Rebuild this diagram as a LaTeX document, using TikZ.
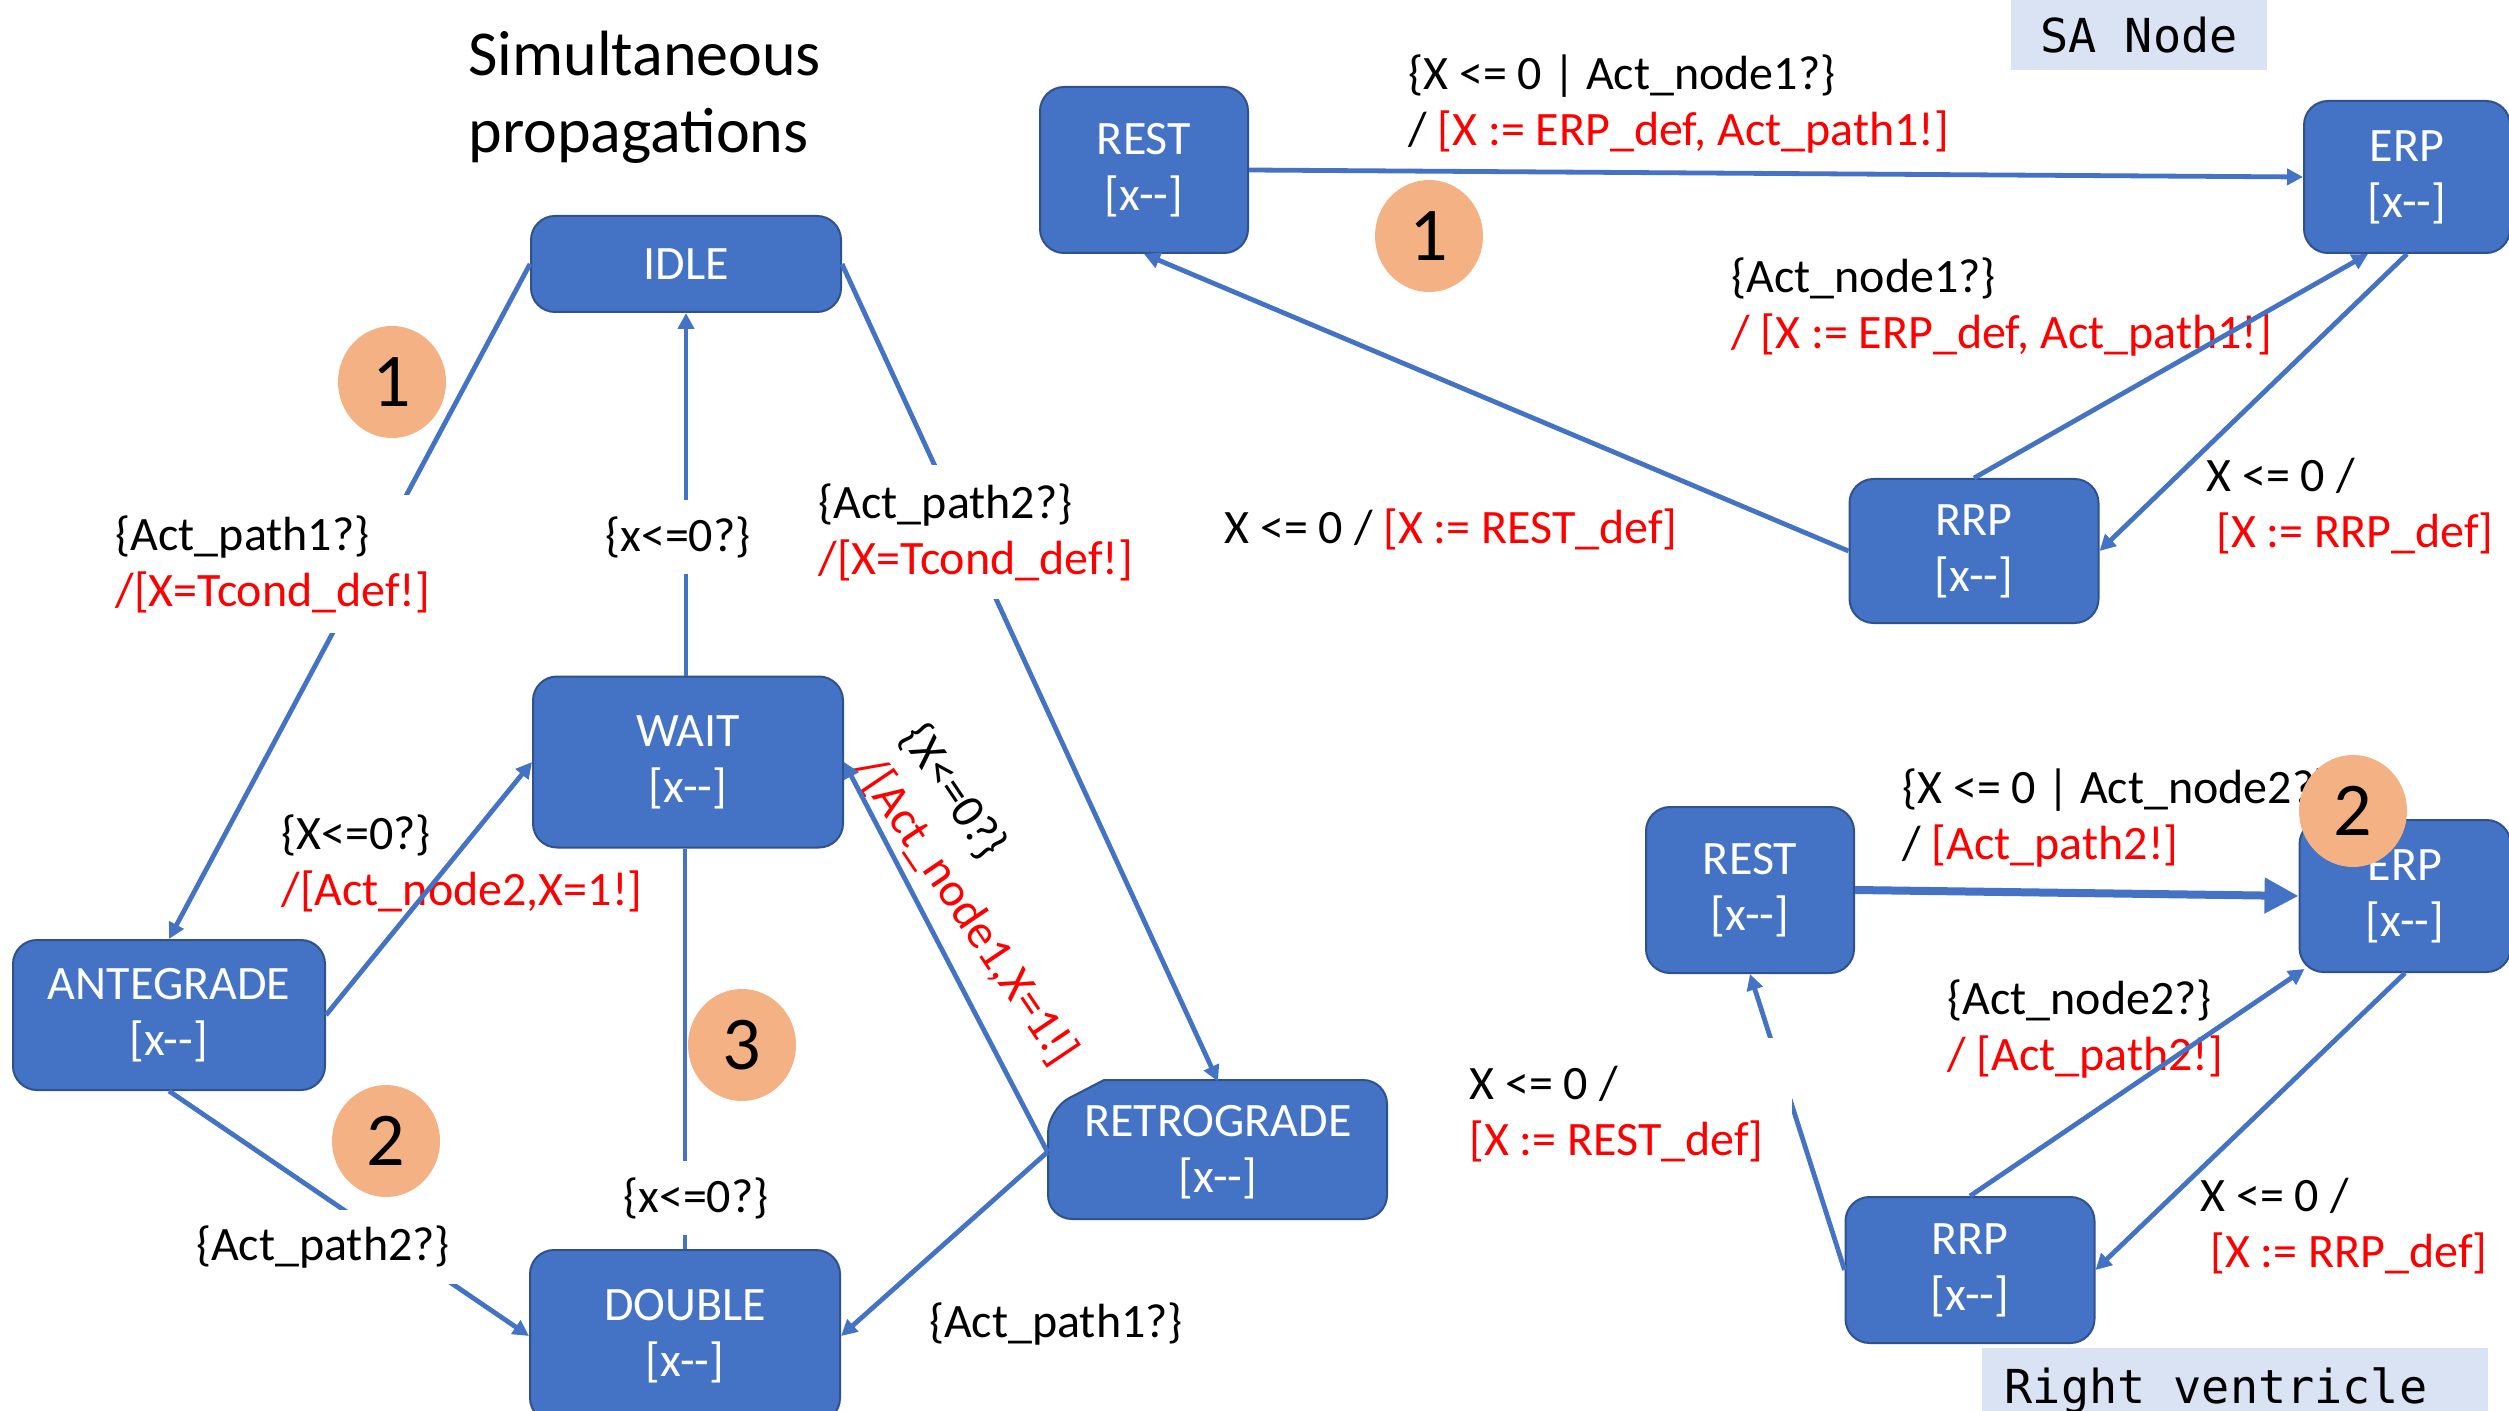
\documentclass[tikz,border=0pt]{standalone}
\usepackage{fontspec}
\setmainfont{Carlito}
\newfontfamily\tagfont{DejaVu Sans Mono}
\usetikzlibrary{arrows.meta,calc,shapes.geometric}
\definecolor{stateblue}{HTML}{4472C4}
\definecolor{stateedge}{HTML}{2F528F}
\definecolor{actred}{HTML}{FF0000}
\definecolor{stepfill}{HTML}{F4B183}
\definecolor{tagbg}{HTML}{DAE3F3}
% counter line shown inside every state box
\newcommand{\xdecr}{{[}x-{}-{]}}
\newcommand{\act}[1]{\textcolor{actred}{#1}}

\begin{document}
\begin{tikzpicture}[x=0.5pt,y=-0.5pt,
  every node/.style={font=\fontsize{24}{28}\selectfont},
  state/.style={draw=stateedge, line width=1pt, fill=stateblue, text=white,
                rounded corners=12pt, align=center, inner sep=0pt},
  trans/.style={draw=stateblue, line width=2.4pt, -{Triangle[length=8pt,width=8pt]}},
  plainline/.style={draw=stateblue, line width=2.4pt},
  bigtrans/.style={draw=stateblue, line width=4pt, -{Triangle[length=17pt,width=17pt]}},
  gaplabel/.style={fill=white, align=left, inner sep=8pt},
  lbl/.style={align=left, inner sep=0pt},
  badge/.style={ellipse, fill=stepfill, minimum width=54pt, minimum height=56pt,
                inner sep=0pt, font=\fontsize{38}{40}\selectfont},
  tag/.style={fill=tagbg, inner sep=0pt, font=\tagfont\fontsize{23.4}{26}\selectfont}
]
\useasboundingbox (0,0) rectangle (2509,1411);
\clip (0,0) rectangle (2509,1411);

% ---------- headings ----------
\node[lbl, anchor=west, font=\fontsize{32}{38.5}\selectfont] (title) at (468,97) {Simultaneous\\propagations};
\node[tag, minimum width=128pt, minimum height=35pt] (satag) at (2139,35) {SA Node};
\node[tag, minimum width=253pt, minimum height=38pt, text depth=0pt] (rvtag) at (2235,1386) {\hspace*{-19pt}Right ventricle};

% ---------- left machine: simultaneous propagations ----------
\node[state, minimum width=155pt, minimum height=48pt]   (idle) at (686,264)  {IDLE};
\node[state, minimum width=155pt, minimum height=85.5pt] (wait) at (688,762)  {WAIT\\\xdecr};
\node[state, minimum width=156pt, minimum height=75pt]   (ante) at (169,1015) {ANTEGRADE\\\xdecr};
\node[state, minimum width=155pt, minimum height=86pt]   (dbl)  at (685,1336) {DOUBLE\\\xdecr};
% RETROGRADE box with a snipped upper-left corner
\draw[draw=stateedge, line width=1pt, fill=stateblue]
  (1104,1080) [rounded corners=12pt] -- (1387,1080) -- (1387,1219) -- (1048,1219)
  -- (1048,1109) [sharp corners] -- cycle;
\node[state, draw=none, fill=none, minimum width=169.5pt, minimum height=69.5pt] (retro) at (1218,1152) {RETROGRADE\\\xdecr};

% ---------- SA node machine ----------
\node[state, minimum width=104pt, minimum height=83pt]   (rest1) at (1144,170) {REST\\\xdecr};
\node[state, minimum width=103pt, minimum height=76pt]   (erp1)  at (2407,177) {ERP\\\xdecr};
\node[state, minimum width=124.5pt, minimum height=72pt] (rrp1)  at (1974,551) {RRP\\\xdecr};

% ---------- right ventricle machine ----------
\node[state, minimum width=104pt, minimum height=83pt]   (rest2) at (1750,890)  {REST\\\xdecr};
\node[state, minimum width=105.5pt, minimum height=76pt] (erp2)  at (2405,896)  {ERP\\\xdecr};
\node[state, minimum width=124.5pt, minimum height=73pt] (rrp2)  at (1970,1270) {RRP\\\xdecr};

% ---------- labels lying under their connectors ----------
\node[lbl] (l4) at (462,863) {\{X<=0?\}\\\act{/[Act\_node2,X=1!]}};
\node[lbl, anchor=west, rotate=-56] (l7) at (888,745) {\{X<=0?\}\\\act{/[Act\_node1,X=1!]}};
\node[lbl] (l8) at (1056,1324) {\{Act\_path1?\}};
\node[lbl, anchor=west] (l9)  at (1408,104)  {\{X <= 0 | Act\_node1?\}\\/ \act{[X := ERP\_def, Act\_path1!]}};
\node[lbl, anchor=west] (l10) at (1224,529)  {X <= 0 / \act{[X := REST\_def]}};
\node[lbl, anchor=west] (l11) at (1731,307)  {\{Act\_node1?\}\\\act{/ [X := ERP\_def, Act\_path1!]}};
\node[lbl, anchor=west] (l12) at (2206,506)  {X <= 0 /\\\hspace*{5pt}\act{[X := RRP\_def]}};
\node[lbl, anchor=west] (l13) at (1902,818)  {\{X <= 0 | Act\_node2?\}\\/ \act{[Act\_path2!]}};
\node[lbl, anchor=west] (l15) at (1947,1029) {\{Act\_node2?\}\\\act{/ [Act\_path2!]}};
\node[lbl, anchor=west] (l16) at (2200,1226) {X <= 0 /\\\hspace*{5pt}\act{[X := RRP\_def]}};

% ---------- transitions ----------
\draw[trans] (idle.west) -- (ante.north);
\draw[trans] (wait.north -| idle.south) -- (idle.south);
\draw[trans] (idle.east) -- (retro.north);
\draw[trans] (ante.east) -- (wait.west);
\draw[plainline] (wait.south -| dbl.north) -- (dbl.north);
\draw[trans] (ante.south) -- (dbl.west);
\draw[trans] (retro.west) -- (wait.east);
\draw[trans] (retro.west) -- (dbl.east);

\draw[trans] (rest1.east) -- (erp1.west);
\draw[trans] (rrp1.west) -- (rest1.south);
\draw[trans] (rrp1.north) -- ([xshift=-19.5pt]erp1.south);
\draw[trans] (erp1.south) -- (rrp1.east);

\draw[bigtrans] (rest2.east) -- (erp2.west);
\draw[trans] (rrp2.west) -- (rest2.south);
\draw[trans] (rrp2.north) -- ([xshift=3pt,yshift=2pt]erp2.south west);
\draw[trans] (erp2.south) -- (rrp2.east);

% ---------- labels that interrupt their connectors ----------
\node[gaplabel, inner ysep=10pt] (l1) at (273,564) {\{Act\_path1?\}\\\act{/[X=Tcond\_def!]}};
\node[gaplabel] (l2) at (678,537) {\{x<=0?\}};
\node[gaplabel, inner ysep=9pt] (l3) at (976,532) {\{Act\_path2?\}\\\act{/[X=Tcond\_def!]}};
\node[gaplabel] (l5) at (696,1198) {\{x<=0?\}};
\node[gaplabel] (l6) at (323,1247) {\{Act\_path2?\}};
\node[gaplabel, inner sep=14pt, anchor=west] (l14) at (1441,1114) {X <= 0 /\\\act{[X := REST\_def]}};

% ---------- numbered markers ----------
\node[badge] (b1a) at (392,382)  {1};
\node[badge] (b2a) at (386,1141) {2};
\node[badge] (b3)  at (742,1045) {3};
\node[badge] (b1b) at (1429,236) {1};
\node[badge] (b2b) at (2353,811) {2};
\end{tikzpicture}
\end{document}
